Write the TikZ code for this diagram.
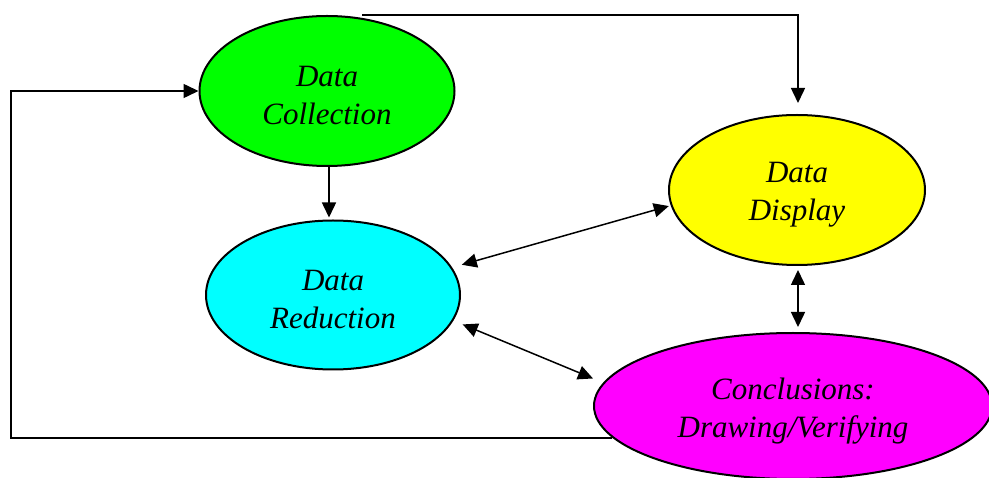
\documentclass[tikz,border=0pt]{standalone}
\usepackage{fontspec}
\setmainfont{Liberation Serif}
\usetikzlibrary{shapes.geometric,arrows.meta,calc}
\definecolor{cgreen}{HTML}{00FF00}
\definecolor{ccyan}{HTML}{00FFFF}
\definecolor{cyellow}{HTML}{FFFF00}
\definecolor{cmagenta}{HTML}{FF00FF}
\newcommand{\toppad}[1]{\rule{0pt}{#1}}
\tikzset{
  blob/.style={ellipse, draw=black, line width=2pt, inner sep=0pt, align=center,
    font=\fontsize{31}{38}\selectfont\itshape},
  conn/.style={line width=1.5pt, -{Triangle[length=15pt,width=14pt]}},
  dconn/.style={line width=1.5pt, {Triangle[length=15pt,width=14pt]}-{Triangle[length=15pt,width=14pt]}}
}
\begin{document}
\begin{tikzpicture}[x=1pt,y=-1pt]
\useasboundingbox (0,0) rectangle (989,478);
\clip (0,0) rectangle (989,478);
\node[blob, fill=cgreen, minimum width=255pt, minimum height=150pt] (green) at (327,91) {\toppad{29pt}Data\\Collection};
\node[blob, fill=ccyan, minimum width=254pt, minimum height=149pt] (cyan) at (333,295) {\toppad{29pt}Data\\Reduction};
\node[blob, fill=cyellow, minimum width=256pt, minimum height=150pt] (yellow) at (797,190) {\toppad{29pt}Data\\Display};
\node[blob, fill=cmagenta, minimum width=398pt, minimum height=146pt] (magenta) at (793,406) {\toppad{32pt}Conclusions:\\Drawing/Verifying};
\coordinate (topstart) at ($(green.north)+(35,0)$);
\coordinate (yelcol) at (798,0);
\coordinate (lc) at (11,437);
% top connector
\draw[conn, shorten >=11pt] (topstart) -- (topstart -| yelcol) -- (yelcol |- yellow.north);
% green to cyan
\draw[conn, shorten >=2pt] ($(green.south)+(2,0)$) -- ($(green.south |- cyan.north)+(2,0)$);
% left loop
\draw[conn] (magenta.190) -- (magenta.190 -| lc) |- (green.west);
% double arrows
\draw[dconn, shorten <=10pt, shorten >=2pt] (cyan.13) -- (yellow.187);
\draw[dconn, shorten <=10pt, shorten >=11pt] (cyan.-12) -- (magenta.173);
\draw[dconn, shorten <=4pt, shorten >=5pt] (yelcol |- yellow.south) -- (yelcol |- magenta.north);
\end{tikzpicture}
\end{document}
